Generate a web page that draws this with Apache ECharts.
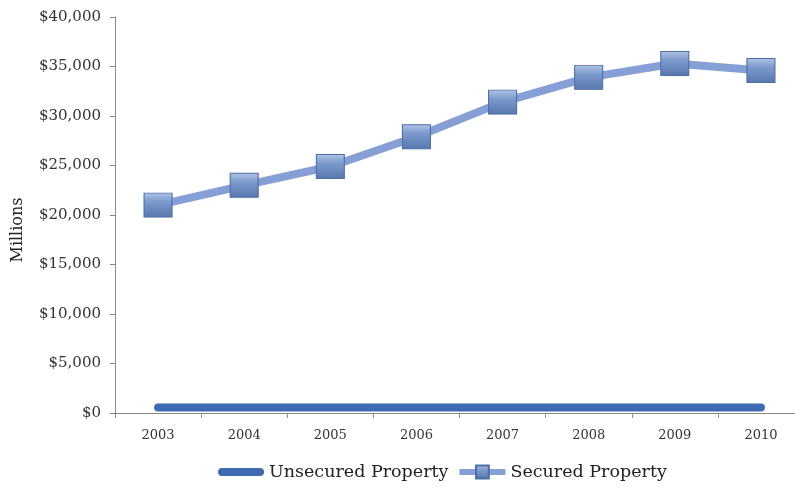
<!DOCTYPE html>
<html>
<head>
<meta charset="utf-8">
<script src="https://cdn.jsdelivr.net/npm/echarts@6/dist/echarts.min.js"></script>
<style>
  html, body { margin: 0; padding: 0; background: #fff; }
  #chart { width: 795px; height: 488px; }
</style>
</head>
<body>
<div id="chart"></div>
<script>
// data (millions of dollars)
var years = ['2003', '2004', '2005', '2006', '2007', '2008', '2009', '2010'];
var unsecured = [550, 550, 550, 550, 550, 550, 550, 550];
var secured = [21000, 23000, 24900, 27900, 31400, 33900, 35300, 34600];

var chart = echarts.init(document.getElementById('chart'));
var font = 'DejaVu Serif';

var markerStyle = {
  color: new echarts.graphic.LinearGradient(0, 0, 0, 1, [
    { offset: 0, color: '#b3c5e6' },
    { offset: 0.35, color: '#7d9bcd' },
    { offset: 1, color: '#5676ad' }
  ]),
  borderColor: '#4d6ea6',
  borderWidth: 1
};

var option = {
  backgroundColor: '#fff',
  animation: false,
  grid: { left: 115, width: 689, top: 17, height: 396, outerBoundsMode: 'none' },
  legend: {
    bottom: 2,
    left: 213,
    itemWidth: 46,
    itemHeight: 16,
    itemGap: 8,
    textStyle: { fontFamily: font, fontSize: 17.5, color: '#222' },
    data: [
      {
        name: 'Unsecured Property',
        icon: 'path://M4,0 L42,0 A4,4 0 0 1 42,8 L4,8 A4,4 0 0 1 4,0 Z',
        itemStyle: { color: '#3d6ab0' }
      },
      {
        name: 'Secured Property',
        lineStyle: { width: 6, color: '#86a0d6' }
      }
    ]
  },
  xAxis: {
    type: 'category',
    data: years,
    boundaryGap: true,
    axisLine: { lineStyle: { color: '#888', width: 1 } },
    axisTick: { show: true, length: 5, lineStyle: { color: '#888' } },
    axisLabel: { fontFamily: font, fontSize: 13, color: '#333', margin: 16 }
  },
  yAxis: {
    type: 'value',
    min: 0,
    max: 40000,
    interval: 5000,
    splitLine: { show: false },
    axisLine: { show: true, lineStyle: { color: '#888', width: 1 } },
    axisTick: { show: true, length: 5, lineStyle: { color: '#888' } },
    axisLabel: {
      fontFamily: font, fontSize: 15, color: '#333', margin: 14,
      formatter: function (v) { return '$' + v.toLocaleString('en-US'); }
    }
  },
  graphic: [{
    type: 'text',
    x: 18,
    y: 230,
    rotation: Math.PI / 2,
    style: {
      text: 'Millions',
      fontFamily: font,
      fontSize: 16,
      fill: '#222',
      align: 'center',
      verticalAlign: 'middle'
    }
  }],
  series: [
    {
      name: 'Unsecured Property',
      type: 'line',
      data: unsecured,
      symbol: 'none',
      lineStyle: { color: '#3d6ab0', width: 8, cap: 'round' },
      itemStyle: { color: '#3d6ab0' }
    },
    {
      name: 'Secured Property',
      type: 'line',
      data: secured,
      symbol: 'rect',
      symbolSize: [28, 24],
      lineStyle: { color: '#86a0d6', width: 8 },
      itemStyle: markerStyle
    }
  ]
};
chart.setOption(option);
</script>
</body>
</html>
